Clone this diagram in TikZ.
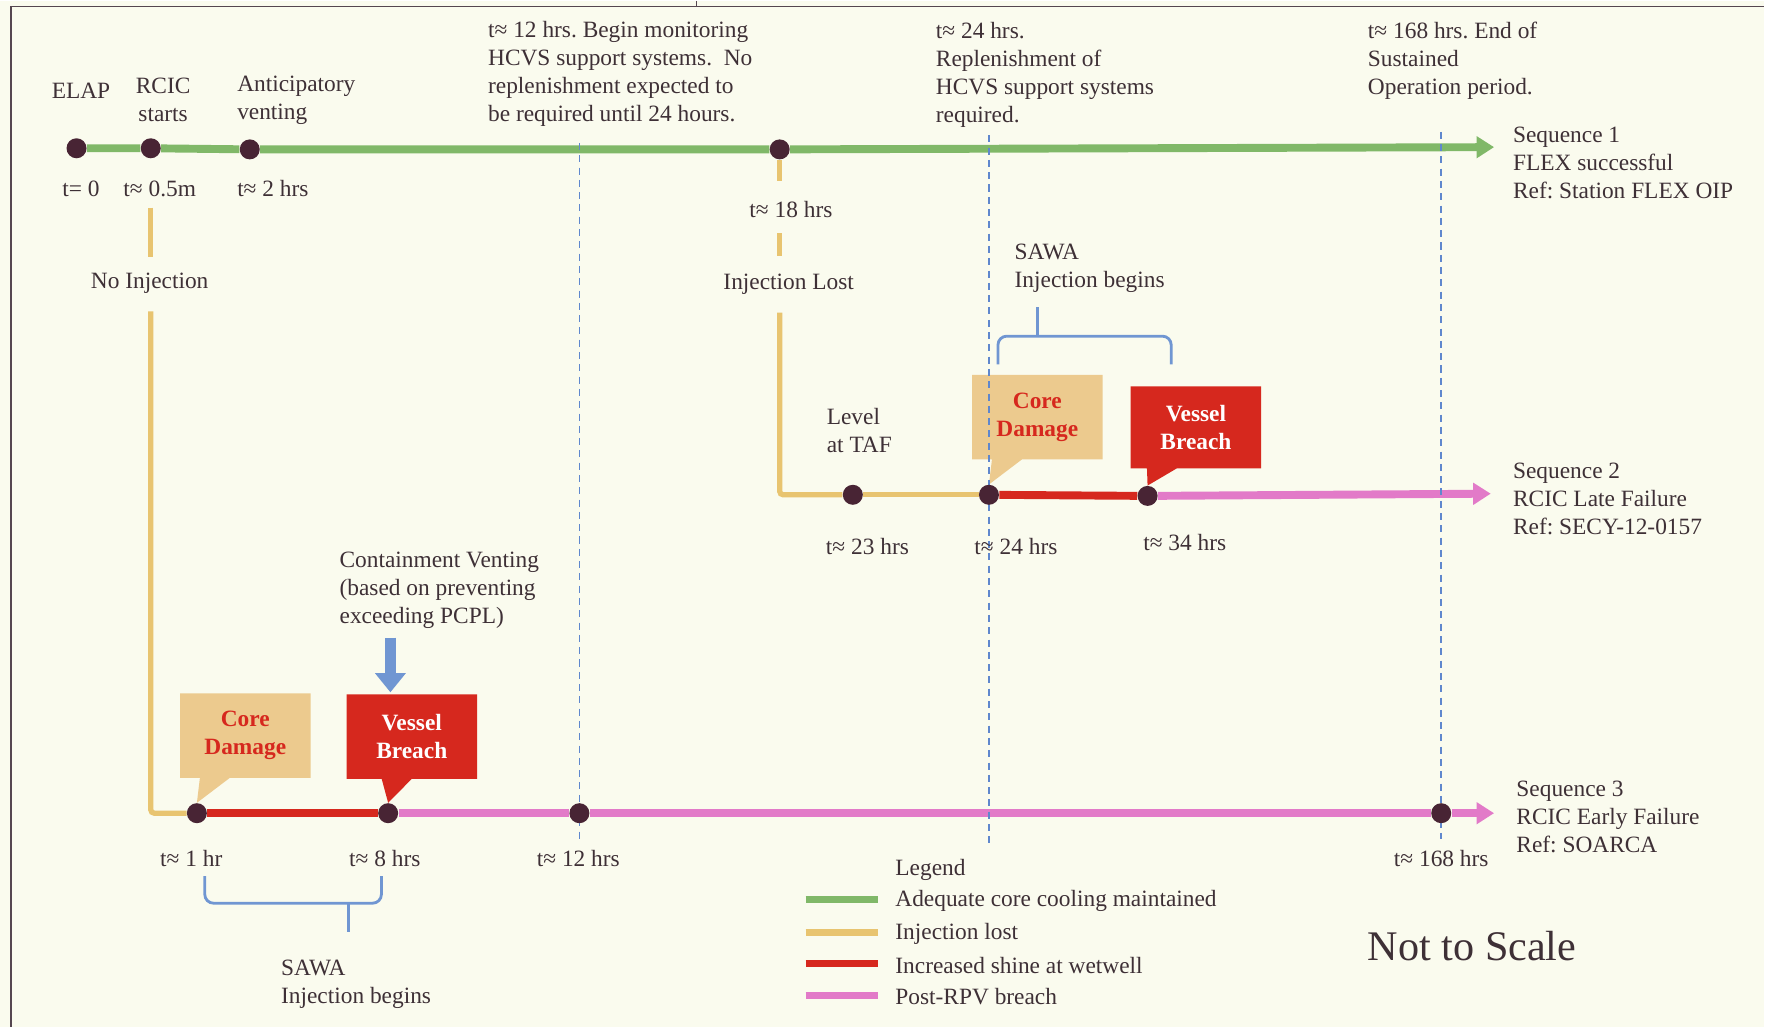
\documentclass[tikz,border=0pt]{standalone}
\usepackage{fontspec}
\setmainfont{Liberation Serif}
\usetikzlibrary{arrows.meta,shapes.callouts,calc}
\frenchspacing

\definecolor{paper}{RGB}{250,251,238}
\definecolor{framegray}{RGB}{85,70,80}
\definecolor{inkgray}{RGB}{62,48,54}
\definecolor{dotbrown}{RGB}{72,36,52}
\definecolor{coolgreen}{RGB}{128,184,104}
\definecolor{lostyellow}{RGB}{232,196,112}
\definecolor{shinered}{RGB}{214,40,30}
\definecolor{postpink}{RGB}{226,122,200}
\definecolor{guideblue}{RGB}{95,135,205}
\definecolor{braceblue}{RGB}{112,150,210}
\definecolor{damagetan}{RGB}{236,202,142}

\pgfdeclarelayer{back}
\pgfdeclarelayer{mid}
\pgfsetlayers{back,mid,main}

\tikzset{
  dot/.style={circle, fill=dotbrown, minimum size=4mm, inner sep=0pt},
  lbl/.style={inner sep=1pt, text=inkgray, font=\fontsize{13.3}{16}\selectfont},
  seqline/.style={line width=4.5pt},
  injline/.style={draw=lostyellow, line width=3pt},
  tipseq/.style={-{Triangle[length=10pt,width=12pt]}},
  guide/.style={draw=guideblue, line width=0.9pt, dash pattern=on 4pt off 3pt},
  callbox/.style={rectangle callout, minimum width=2.61cm, minimum height=1.69cm,
    callout pointer width=0.6cm, align=center, inner sep=2pt,
    font=\bfseries\fontsize{13.3}{16}\selectfont},
  brace/.style={draw=braceblue, line width=1.6pt, rounded corners=5pt},
  legline/.style={line width=4pt}
}

\begin{document}
\begin{tikzpicture}[x=0.022514cm, y=-0.022514cm]
% page
\begin{pgfonlayer}{back}
\fill[paper] (0,0) rectangle (1568,912);
\draw[framegray, line width=1pt] (10,912) -- (10,5) -- (1568,5);
\draw[framegray, line width=1pt] (619,0) -- (619,5);
\end{pgfonlayer}

% event dots
\node[dot] (s1a) at (68,131) {};
\node[dot] (s1b) at (134,131) {};
\node[dot] (s1c) at (222,132) {};
\node[dot] (s1d) at (693,132) {};
\node[dot] (s2a) at (758,439) {};
\node[dot] (s2b) at (879,439) {};
\node[dot] (s2c) at (1020,440) {};
\node[dot] (s3a) at (175,722) {};
\node[dot] (s3b) at (345,722) {};
\node[dot] (s3c) at (515,722) {};
\node[dot] (s3d) at (1281,722) {};
\coordinate (s1end) at (1328,130);
\coordinate (s2end) at (1325,438);
\coordinate (s3end) at (1328,722);

% sequence 1 labels
\node[lbl] (elap) at (72,80) {ELAP};
\node[lbl, align=center] (rcic) at (145,88) {RCIC\\starts};
\node[lbl, align=left, anchor=west] (antic) at (209,88) {Anticipatory\\venting};
\node[lbl] (t0) at (72,167) {t= 0};
\node[lbl] (t05) at (142,167) {t≈ 0.5m};
\node[lbl, anchor=west] (t2) at (209,167) {t≈ 2 hrs};
\node[lbl, align=left, anchor=west] (note12) at (432,65) {t≈ 12 hrs. Begin monitoring\\HCVS support systems.\ \ No\\replenishment expected to\\be required until 24 hours.};
\node[lbl, align=left, anchor=west] (note24) at (830,66) {t≈ 24 hrs.\\Replenishment of\\HCVS support systems\\required.};
\node[lbl, align=left, anchor=west] (note168) at (1214,53) {t≈ 168 hrs. End of\\Sustained\\Operation period.};
\node[lbl, align=left, anchor=west] (seq1) at (1343,144) {Sequence 1\\FLEX successful\\Ref: Station FLEX OIP};
\node[lbl] (t18) at (703,185) {t≈ 18 hrs};
\node[lbl] (lost) at (701,252) {Injection Lost};
\node[lbl] (noinj) at (133,251) {No Injection};

% sequence 2 labels
\node[lbl, align=left, anchor=west] (sawa2) at (900,238) {SAWA\\Injection begins};
\node[lbl, align=left, anchor=west] (taf) at (733,382) {Level\\at TAF};
\node[lbl] (t23) at (771,485) {t≈ 23 hrs};
\node[lbl] (t24) at (903,485) {t≈ 24 hrs};
\node[lbl] (t34) at (1053,481) {t≈ 34 hrs};
\node[lbl, align=left, anchor=west] (seq2) at (1343,443) {Sequence 2\\RCIC Late Failure\\Ref: SECY-12-0157};

% sequence 3 labels
\node[lbl, align=left, anchor=west] (vent) at (300,524) {Containment Venting\\(based on preventing\\exceeding PCPL)};
\node[lbl] (t1) at (170,762) {t≈ 1 hr};
\node[lbl] (t8) at (342,762) {t≈ 8 hrs};
\node[lbl] (t12) at (514,762) {t≈ 12 hrs};
\node[lbl] (t168) at (1281,762) {t≈ 168 hrs};
\node[lbl, align=left, anchor=west] (seq3) at (1346,725) {Sequence 3\\RCIC Early Failure\\Ref: SOARCA};
\node[lbl, align=left, anchor=west] (sawa3) at (248,874) {SAWA\\Injection begins};

% legend
\node[lbl, anchor=west] (legend) at (794,772) {Legend};
\node[lbl, anchor=west] (lg1) at (794,800) {Adequate core cooling maintained};
\node[lbl, anchor=west] (lg2) at (794,829) {Injection lost};
\node[lbl, anchor=west] (lg3) at (794,857) {Increased shine at wetwell};
\node[lbl, anchor=west] (lg4) at (794,885) {Post-RPV breach};
\node[lbl, anchor=west, font=\fontsize{24}{28}\selectfont] (scale) at (1214,840) {Not to Scale};

\begin{pgfonlayer}{back}
% callouts
\node[callbox, fill=damagetan, text=shinered, callout absolute pointer={(s3a.north)}] (cd3) at (218,653) {Core\\Damage};
\node[callbox, fill=shinered, text=white, callout absolute pointer={(s3b.north)}] (vb3) at (366,654) {Vessel\\Breach};
\node[callbox, fill=damagetan, text=shinered, callout absolute pointer={(s2b.north)}] (cd2) at (922,370) {Core\\Damage};
\node[callbox, fill=shinered, text=white, minimum height=1.64cm, callout absolute pointer={(s2c.north)}] (vb2) at (1063,379) {Vessel\\Breach};

% sequence lines
\draw[seqline, coolgreen, tipseq] (s1a) -- (s1b) -- (s1c) -- (s1d) -- (s1end);
\draw[injline, shorten <=5pt, shorten >=8pt] (t05.south -| s1b) -- (noinj.north -| s1b);
\draw[injline, rounded corners=2pt, shorten <=9pt] (noinj.south -| s1b) -- (s1b |- s3a) -- (s3a);
\draw[seqline, shinered] (s3a) -- (s3b);
\draw[seqline, postpink, tipseq] (s3b) -- (s3c) -- (s3d) -- (s3end);
\draw[injline, shorten >=10pt] (s1d) -- (s1d |- t18.north);
\draw[injline, shorten <=8pt, shorten >=9pt] (t18.south -| s1d) -- (lost.north -| s1d);
\draw[injline, rounded corners=2pt, shorten <=9pt] (lost.south -| s1d) -- (s1d |- s2a) -- (s2a);
\draw[injline] (s2a) -- (s2b);
\draw[seqline, shinered] (s2b) -- (s2c);
\draw[seqline, postpink, tipseq] (s2c) -- (s2end);

% braces and venting arrow
\draw[brace] (182,778) -- (182,802) -- (339,802) -- (339,778);
\draw[brace] (310,802) -- (310,828);
\draw[brace] (887,323) -- (887,298) -- (1041,298) -- (1041,323);
\draw[brace] (922,298) -- (922,272);
\coordinate (venttop) at (347,566);
\draw[draw=braceblue, line width=6.4pt, -{Triangle[length=11pt,width=17pt]}, shorten >=1pt] (venttop) -- (venttop |- vb3.north);

% legend lines
\draw[legline, coolgreen] (lg1.west) ++(-78,-1) -- ++(64,0);
\draw[legline, lostyellow] (lg2.west) ++(-78,-1) -- ++(64,0);
\draw[legline, shinered] (lg3.west) ++(-78,-1) -- ++(64,0);
\draw[legline, postpink] (lg4.west) ++(-78,-1) -- ++(64,0);
\end{pgfonlayer}

% time guides
\begin{pgfonlayer}{mid}
\draw[guide, shorten <=8pt, shorten >=5pt] (s3c |- note12.south) -- (s3c |- t12.north);
\draw[guide, shorten <=3pt, shorten >=2pt] (s2b |- note24.south) -- (s2b |- t12.north);
\draw[guide, shorten <=4pt, shorten >=5pt] (s3d |- seq1.north) -- (s3d |- t168.north);
\end{pgfonlayer}
\end{tikzpicture}
\end{document}
